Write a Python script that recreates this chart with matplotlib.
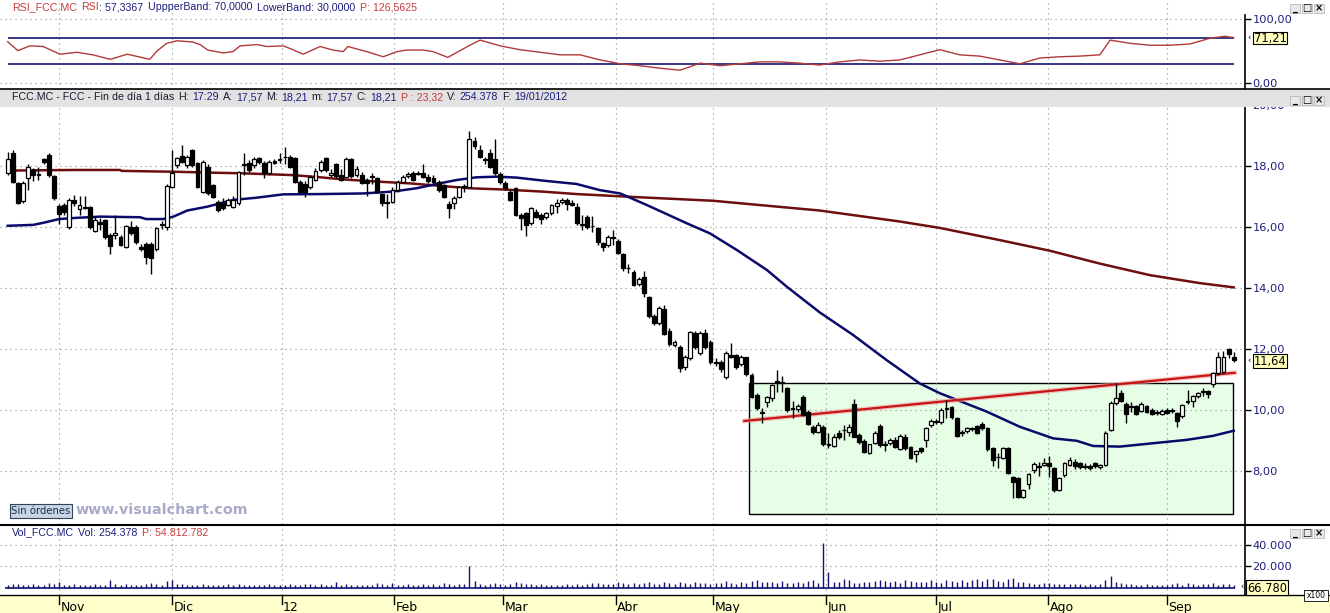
import numpy as np
import matplotlib
matplotlib.use("Agg")
import matplotlib.pyplot as plt
from matplotlib.patches import Rectangle
from matplotlib.transforms import blended_transform_factory

plt.rcParams['font.family'] = ['DejaVu Sans']

# ---------------- data ----------------
month_labels = ['Nov', 'Dic', '12', 'Feb', 'Mar', 'Abr', 'May', 'Jun', 'Jul', 'Ago', 'Sep']
month_pos = [10, 32, 53.4, 75.4, 96.5, 118.5, 137.5, 159.6, 181, 202.8, 226]

opens = [17.76, 18.42, 17.43, 16.85, 17.60, 17.87, 17.72, 18.22, 18.36, 17.67,
         16.69, 16.72, 16.01, 16.90, 16.60, 16.66, 16.64, 15.87, 16.15, 16.23,
         15.74, 15.73, 15.68, 15.36, 16.00, 16.00, 15.35, 15.45, 15.45, 15.27,
         16.08, 16.00, 17.32, 18.03, 18.33, 18.03, 18.52, 18.09, 17.16, 17.98,
         17.38, 16.83, 16.78, 16.72, 16.67, 16.78, 18.03, 18.09, 18.03, 18.25,
         18.09, 17.76, 18.15, 18.20, 18.28, 18.30, 18.25, 17.49, 17.40, 17.32,
         17.54, 17.87, 18.25, 17.72, 18.05, 17.70, 17.63, 18.22, 17.70, 17.70,
         17.54, 17.67, 17.60, 17.08, 16.80, 16.83, 17.21, 17.49, 17.66, 17.76,
         17.74, 17.76, 17.65, 17.60, 17.49, 17.38, 16.76, 16.80, 16.99, 17.30,
         17.32, 18.83, 18.52, 18.20, 18.42, 18.22, 17.74, 17.43, 17.16, 17.27,
         16.39, 16.45, 16.12, 16.50, 16.39, 16.32, 16.47, 16.69, 16.83, 16.88,
         16.80, 16.64, 16.10, 16.32, 16.03, 15.96, 15.46, 15.41, 15.66, 15.55,
         15.11, 14.64, 14.54, 14.12, 14.35, 13.69, 13.08, 12.84, 13.30, 12.60,
         12.12, 12.08, 11.40, 11.69, 12.54, 11.86, 12.54, 12.24, 11.56, 11.58,
         11.07, 11.80, 11.80, 11.51, 11.73, 11.15, 10.49, 9.95, 10.27, 10.38,
         10.96, 10.90, 10.71, 10.05, 10.02, 10.42, 9.95, 9.45, 9.29, 9.45,
         8.88, 8.82, 9.26, 9.35, 9.29, 10.20, 9.18, 8.99, 8.60, 8.93,
         9.48, 8.85, 8.91, 9.02, 8.71, 9.13, 8.78, 8.56, 8.74, 9.02,
         9.51, 9.62, 9.62, 10.02, 10.09, 9.73, 9.25, 9.31, 9.37, 9.48,
         9.54, 9.40, 8.74, 8.47, 8.42, 8.74, 7.81, 7.76, 7.14, 7.57,
         8.03, 8.14, 8.20, 8.25, 8.09, 7.38, 7.87, 8.20, 8.31, 8.25,
         8.14, 8.16, 8.27, 8.12, 8.20, 9.34, 10.24, 10.57, 10.20, 10.12,
         10.13, 9.98, 10.13, 10.00, 9.90, 9.87, 10.00, 9.97, 9.89, 9.80,
         10.27, 10.30, 10.46, 10.60, 10.62, 10.85, 11.20, 11.25, 11.99, 11.73]
highs = [18.47, 18.52, 17.47, 17.50, 18.05, 17.95, 17.98, 18.25, 18.42, 17.70,
         16.75, 16.80, 16.95, 17.05, 17.00, 17.00, 16.70, 16.35, 16.30, 16.25,
         15.80, 16.40, 15.75, 16.08, 16.20, 16.05, 15.45, 15.50, 15.50, 16.00,
         16.20, 17.40, 18.52, 18.30, 18.70, 18.35, 18.55, 18.12, 18.20, 18.05,
         17.42, 16.90, 16.95, 16.95, 17.00, 17.85, 18.42, 18.20, 18.28, 18.30,
         18.15, 18.20, 18.22, 18.42, 18.62, 18.35, 18.30, 17.55, 17.50, 17.70,
         17.95, 18.20, 18.30, 17.90, 18.10, 17.90, 18.28, 18.25, 18.00, 17.80,
         17.60, 17.76, 17.65, 17.10, 17.08, 17.30, 17.55, 17.70, 17.80, 17.82,
         17.82, 18.05, 17.75, 17.70, 17.55, 17.42, 16.85, 17.00, 17.35, 17.40,
         19.16, 18.95, 18.70, 18.30, 18.55, 18.90, 17.80, 17.50, 17.20, 17.30,
         16.45, 16.50, 16.65, 16.60, 16.45, 16.50, 16.76, 16.92, 16.95, 16.95,
         16.90, 16.80, 16.40, 16.40, 16.35, 16.00, 15.50, 15.75, 15.90, 15.60,
         15.15, 14.80, 14.60, 14.35, 14.55, 13.75, 13.15, 13.40, 13.45, 12.70,
         12.30, 12.12, 11.80, 12.60, 12.60, 12.58, 12.65, 12.30, 11.70, 11.65,
         11.95, 12.20, 11.85, 11.80, 11.75, 11.20, 10.55, 10.05, 10.45, 10.85,
         11.30, 11.10, 10.75, 10.30, 10.20, 10.50, 10.00, 9.50, 9.60, 9.50,
         9.25, 9.20, 9.35, 9.50, 9.55, 10.35, 9.25, 9.05, 8.90, 9.30,
         9.55, 8.98, 9.08, 9.10, 9.20, 9.20, 8.82, 8.70, 8.80, 9.45,
         9.70, 9.72, 10.05, 10.33, 10.12, 9.76, 9.35, 9.45, 9.45, 9.52,
         9.60, 9.45, 8.80, 8.60, 8.78, 8.78, 7.85, 7.80, 7.42, 7.95,
         8.30, 8.30, 8.42, 8.50, 8.12, 7.80, 8.28, 8.45, 8.40, 8.30,
         8.25, 8.22, 8.30, 8.22, 9.30, 10.30, 10.87, 10.65, 10.25, 10.27,
         10.18, 10.25, 10.18, 10.05, 10.00, 10.02, 10.05, 10.05, 9.92, 10.20,
         10.65, 10.50, 10.60, 10.71, 10.66, 11.25, 11.90, 11.95, 12.02, 11.90]
lows = [17.70, 17.43, 16.75, 16.80, 17.20, 17.50, 17.55, 18.05, 17.65, 16.90,
        16.10, 16.40, 15.95, 16.70, 16.40, 16.60, 15.95, 15.85, 15.90, 15.60,
        15.10, 15.60, 15.38, 15.30, 15.75, 15.45, 15.20, 14.80, 14.45, 15.20,
        15.95, 15.90, 17.30, 17.95, 18.10, 17.95, 17.98, 17.28, 17.10, 17.05,
        16.95, 16.50, 16.55, 16.68, 16.62, 16.72, 17.70, 17.80, 17.95, 18.08,
        17.60, 17.70, 18.05, 18.10, 18.05, 17.95, 17.45, 17.10, 16.99, 17.25,
        17.50, 17.80, 17.80, 17.65, 17.60, 17.50, 17.60, 17.60, 17.65, 17.40,
        17.00, 17.40, 17.10, 16.70, 16.30, 16.80, 17.15, 17.45, 17.60, 17.50,
        17.70, 17.60, 17.45, 17.45, 17.15, 16.95, 16.30, 16.60, 16.95, 17.15,
        17.30, 18.55, 18.25, 18.05, 17.95, 17.70, 17.40, 17.20, 16.85, 16.35,
        15.90, 15.70, 16.05, 16.30, 16.10, 16.25, 16.40, 16.45, 16.75, 16.55,
        16.70, 16.05, 15.90, 15.95, 15.85, 15.40, 15.20, 15.35, 15.40, 15.10,
        14.55, 14.48, 14.05, 14.05, 13.70, 13.00, 12.80, 12.80, 12.45, 12.10,
        12.05, 11.25, 11.30, 11.65, 12.00, 11.80, 12.00, 11.50, 11.45, 11.25,
        11.00, 11.70, 11.35, 11.45, 11.10, 10.40, 10.00, 9.56, 10.10, 10.30,
        10.60, 10.60, 9.95, 9.75, 9.95, 9.80, 9.50, 9.20, 9.25, 8.82,
        8.75, 8.80, 9.05, 9.00, 9.15, 9.10, 8.90, 8.60, 8.55, 8.90,
        8.80, 8.65, 8.85, 8.75, 8.68, 8.70, 8.40, 8.30, 8.60, 8.80,
        9.45, 9.55, 9.55, 9.75, 9.70, 9.10, 9.15, 9.25, 9.30, 9.20,
        9.35, 8.65, 8.15, 8.10, 8.38, 7.90, 7.10, 7.10, 7.10, 7.40,
        7.95, 7.85, 8.15, 7.80, 7.30, 7.35, 7.80, 8.15, 8.05, 8.05,
        8.05, 8.02, 8.10, 8.08, 8.15, 9.30, 10.15, 10.25, 9.56, 9.95,
        9.85, 9.95, 9.90, 9.85, 9.85, 9.84, 9.88, 9.90, 9.45, 9.75,
        10.20, 10.10, 10.40, 10.45, 10.38, 10.75, 11.15, 11.20, 11.70, 11.58]
closes = [18.22, 17.49, 16.78, 17.45, 17.98, 17.70, 17.70, 18.14, 17.72, 16.96,
          16.42, 16.50, 16.89, 16.78, 16.72, 16.62, 16.01, 16.23, 16.10, 15.68,
          15.38, 15.81, 15.41, 16.03, 15.80, 15.50, 15.27, 15.03, 14.97, 15.96,
          16.10, 17.34, 17.76, 18.25, 18.14, 18.28, 18.03, 17.32, 18.14, 17.10,
          16.99, 16.56, 16.61, 16.88, 16.90, 17.81, 18.05, 17.87, 18.22, 18.14,
          17.76, 18.14, 18.10, 18.22, 18.30, 17.98, 17.49, 17.16, 17.16, 17.65,
          17.85, 18.14, 17.87, 17.78, 17.67, 17.54, 18.22, 17.67, 17.90, 17.43,
          17.43, 17.63, 17.16, 16.78, 16.82, 17.21, 17.49, 17.65, 17.74, 17.54,
          17.78, 17.65, 17.52, 17.49, 17.21, 16.97, 16.61, 16.94, 17.32, 17.34,
          18.87, 18.66, 18.28, 18.20, 17.98, 17.76, 17.49, 17.27, 16.88, 16.39,
          16.28, 16.07, 16.61, 16.34, 16.25, 16.45, 16.72, 16.78, 16.88, 16.74,
          16.72, 16.12, 16.08, 16.01, 16.02, 15.52, 15.36, 15.68, 15.65, 15.14,
          14.64, 14.64, 14.10, 14.28, 13.83, 13.08, 12.84, 13.33, 12.49, 12.16,
          12.22, 11.37, 11.73, 12.57, 12.05, 12.51, 12.05, 11.58, 11.55, 11.33,
          11.88, 11.75, 11.42, 11.73, 11.18, 10.44, 10.05, 9.90, 10.44, 10.82,
          10.90, 10.92, 10.00, 10.04, 10.13, 9.84, 9.54, 9.27, 9.51, 8.88,
          8.86, 9.13, 9.10, 9.33, 9.45, 9.13, 8.96, 8.63, 8.88, 9.26,
          8.85, 8.86, 9.02, 8.80, 9.15, 8.74, 8.42, 8.67, 8.67, 9.40,
          9.65, 9.64, 10.00, 10.05, 9.76, 9.15, 9.27, 9.40, 9.38, 9.26,
          9.40, 8.71, 8.36, 8.45, 8.74, 7.95, 7.65, 7.16, 7.38, 7.90,
          8.22, 8.13, 8.25, 8.16, 7.38, 7.76, 8.25, 8.36, 8.16, 8.14,
          8.13, 8.09, 8.16, 8.20, 9.23, 10.24, 10.38, 10.31, 9.87, 10.11,
          9.87, 10.20, 9.95, 9.87, 9.91, 9.98, 9.90, 9.96, 9.65, 10.16,
          10.28, 10.46, 10.55, 10.61, 10.51, 11.20, 11.73, 11.73, 11.84, 11.64]

volumes = [3000, 3500, 4000, 2800, 3200, 3600, 2500, 3000, 4200, 3800,
           5500, 3000, 2800, 3300, 2600, 3100, 2900, 3400, 2700, 3000,
           7000, 3500, 3200, 4000, 2800, 3000, 2900, 3600, 4500, 3300,
           3000, 6500, 7500, 3500, 3800, 3000, 2700, 3200, 3600, 2800,
           3100, 2600, 3000, 3300, 2900, 4000, 2700, 3100, 2600, 3000,
           2800, 3400, 2500, 2900, 3200, 3600, 2700, 3000, 4000, 3300,
           2900, 3500, 3100, 2700, 5500, 3000, 3800, 2600, 3000, 2900,
           3200, 2800, 4500, 3300, 3000, 5000, 3100, 2900, 3500, 3000,
           2700, 3600, 3000, 3300, 2800, 4200, 3400, 3000, 3600, 4000,
           20000, 6500, 4000, 3200, 3800, 5000, 3600, 3000, 3800, 5500,
           4500, 3800, 3300, 3000, 3500, 2800, 3000, 3200, 2900, 3300,
           3000, 4000, 3200, 3500, 4500, 5000, 3600, 3300, 3800, 5500,
           4200, 3500, 4800, 3600, 4300, 5500, 4000, 3800, 5200, 4600,
           3800, 6000, 4500, 4000, 5800, 4200, 4800, 3800, 4500, 5000,
           6500, 4200, 4000, 5300, 4800, 6500, 7500, 5200, 6000, 5500,
           4500, 6800, 5000, 4200, 5800, 4500, 6500, 7000, 5000, 42000,
           15000, 6000, 5500, 8000, 7500, 5000, 4500, 6000, 5500, 6500,
           7000, 6500, 5500, 6200, 5000, 7000, 6500, 5500, 5800, 6000,
           7500, 5500, 5000, 7000, 6500, 5800, 7000, 6000, 7500, 8000,
           6500, 8500, 8000, 6500, 6000, 8500, 9000, 6000, 5500, 4500,
           4000, 3800, 4500, 4200, 3500, 4000, 3600, 3400, 3800, 3500,
           3200, 3600, 3000, 3500, 7000, 11000, 6000, 4500, 4000, 3500,
           3000, 3200, 3500, 3000, 2800, 3200, 3000, 3500, 5000, 3200,
           4500, 3500, 3000, 3800, 3500, 4500, 3000, 4000, 3500, 3200]

ma_fast_idx = [0, 5, 7, 10, 13.4, 18, 25.8, 27, 30.3, 32.3, 35, 39, 44, 48.5, 53.7, 61,
               69.3, 75, 79.7, 83.6, 87.5, 91.4, 95.3, 99.2, 104.4, 110.9, 115.4, 119.4,
               124.6, 132.4, 136.9, 142.1, 148, 151.9, 158.3, 164.8, 171.3, 177.8, 181.7,
               184.3, 190.8, 197.3, 203.8, 208.4, 211.6, 216.8, 223.3, 229.8, 234.9, 239]
ma_fast_val = [16.04, 16.07, 16.14, 16.26, 16.30, 16.34, 16.32, 16.26, 16.26, 16.34, 16.54,
               16.67, 16.89, 16.96, 17.07, 17.08, 17.10, 17.16, 17.27, 17.41, 17.54, 17.63,
               17.65, 17.62, 17.52, 17.41, 17.21, 17.10, 16.72, 16.12, 15.79, 15.25, 14.59,
               14.04, 13.20, 12.46, 11.64, 10.87, 10.55, 10.38, 9.95, 9.45, 9.07, 8.99, 8.82,
               8.80, 8.91, 9.02, 9.15, 9.32]

ma_slow_idx = [0, 13.4, 21.9, 22.2, 32.9, 40.1, 46, 55.7, 60.9, 65.4, 71.9, 78.4, 84.9, 90.1,
               96.6, 104.3, 110.9, 121.3, 137.5, 158.3, 173.9, 181.7, 193.4, 203.2, 212.9,
               222.7, 232.4, 239]
ma_slow_val = [17.85, 17.87, 17.87, 17.84, 17.81, 17.78, 17.76, 17.70, 17.63, 17.56, 17.49,
               17.43, 17.34, 17.27, 17.23, 17.16, 17.08, 16.99, 16.86, 16.54, 16.18, 15.97,
               15.57, 15.22, 14.80, 14.42, 14.16, 14.02]

rsi_idx = [0, 2, 4.3, 6.9, 10.2, 13.5, 16.6, 20, 23.3, 27.7, 29.1, 31, 33, 36.1, 37.5, 39,
           42, 43.9, 45.3, 48.6, 50.5, 53.7, 55, 57.6, 60.9, 63.4, 65.4, 66.3, 70, 73.2,
           75.9, 77.8, 81, 82.9, 85.8, 90.1, 92.1, 96, 99.9, 103.8, 107.7, 111.6, 115.5,
           119.4, 123.3, 127.2, 131.1, 135, 138.9, 142.8, 146.6, 150.5, 154.4, 158.3,
           162.2, 166.1, 170, 173.9, 177.8, 181.7, 185.6, 189.5, 193.4, 197.3, 201.2,
           205.1, 209, 212.9, 214.9, 218.8, 222.7, 226.6, 230.5, 234.4, 237.3, 239]
rsi_val = [64.5, 50.5, 58, 57, 45, 48, 44, 37, 45, 37, 50, 62, 66, 64, 60, 51.5,
           47, 49, 58, 60, 57, 58, 54, 45, 57, 51.5, 49, 57, 49, 41,
           49, 51.5, 51.5, 49, 40, 59, 67, 58, 52, 48, 44, 44, 36,
           30, 27, 23, 20, 31, 27, 30, 33, 33, 31, 28,
           33, 36, 34, 36, 44, 52, 44, 42, 36, 30, 39,
           41, 42, 44, 67, 62, 59, 59, 61, 70, 73, 71]
rsi_bands = [30, 70]
rsi_ticks = [0, 100]
rsi_tick_labels = ['0,00', '100,00']

trend_idx = [143.6, 239.2]
trend_val = [9.64, 11.22]
box_idx = [144.6, 238.9]
box_price = [6.58, 10.875]

price_ticks = [8, 10, 12, 14, 16, 18, 20]
price_tick_labels = ['8,00', '10,00', '12,00', '14,00', '16,00', '18,00', '20,00']
vol_ticks = [20000, 40000]
vol_tick_labels = ['20.000', '40.000']

# ---------------- layout helpers ----------------
W, H = 1330, 613
fig = plt.figure(figsize=(W / 100, H / 100), dpi=100)
fig.patch.set_facecolor('white')


def rect(x0, y0, x1, y1):
    return [x0 / W, 1 - y1 / H, (x1 - x0) / W, (y1 - y0) / H]


NAVY = '#1e1e7e'
RED = '#c83c3c'
GRID = '#8c8c8c'
XLIM = (-1.5, 241.2)
idx = np.arange(len(closes))


def style_axis(ax, ticks, labels):
    ax.set_xlim(*XLIM)
    for s in ['top', 'left', 'bottom']:
        ax.spines[s].set_visible(False)
    ax.spines['right'].set_color('black')
    ax.spines['right'].set_linewidth(1.2)
    ax.set_xticks([])
    ax.yaxis.tick_right()
    ax.set_yticks(ticks)
    ax.set_yticklabels(labels)
    ax.tick_params(axis='y', length=4, width=1, color='black', labelcolor=NAVY,
                   labelsize=8.2, pad=1.5, direction='out')
    for mp in month_pos:
        ax.axvline(mp, color=GRID, lw=0.8, ls=(0, (1, 3.5)), zorder=1)
    for t in ticks:
        ax.axhline(t, color=GRID, lw=0.8, ls=(0, (1, 3.5)), zorder=1)


# ---------------- RSI panel ----------------
ax_r = fig.add_axes(rect(0, 0, 1245, 89))
ax_r.set_ylim(-9.4, 129.7)
style_axis(ax_r, rsi_ticks, rsi_tick_labels)
ax_r.spines['right'].set_bounds(-9.4, 106)
for b in rsi_bands:
    ax_r.hlines(b, idx[0], idx[-1], color='#141470', lw=1.2, zorder=2)
ax_r.plot(rsi_idx, rsi_val, color='#b03a3a', lw=1.0, zorder=3)

# ---------------- price panel ----------------
ax_p = fig.add_axes(rect(0, 105, 1245, 524))
ax_p.set_ylim(6.262, 20.0)
style_axis(ax_p, price_ticks, price_tick_labels)
ax_p.add_patch(Rectangle((box_idx[0], box_price[0]), box_idx[1] - box_idx[0],
                         box_price[1] - box_price[0], facecolor='#e6fde6',
                         edgecolor='black', lw=1.0, zorder=0.5))
ax_p.plot(ma_slow_idx, ma_slow_val, color='#6e0e0e', lw=1.8, zorder=2)
ax_p.plot(ma_fast_idx, ma_fast_val, color='#0a0a6a', lw=1.8, zorder=2)
ax_p.plot(trend_idx, trend_val, color='#f0a0a0', lw=3.4, zorder=2.4, alpha=0.6)
ax_p.plot(trend_idx, trend_val, color='#c81414', lw=1.6, zorder=2.5)

o = np.array(opens); c = np.array(closes); h = np.array(highs); l = np.array(lows)
up = c >= o
ax_p.vlines(idx, l, h, color='black', lw=1.0, zorder=3)
body_lo = np.minimum(o, c)
body_h = np.maximum(np.abs(c - o), 0.025)
ax_p.bar(idx[up], body_h[up], bottom=body_lo[up], width=0.75, color='white',
         edgecolor='black', lw=0.9, zorder=4)
ax_p.bar(idx[~up], body_h[~up], bottom=body_lo[~up], width=0.75, color='black',
         edgecolor='black', lw=0.9, zorder=4)

# ---------------- volume panel ----------------
ax_v = fig.add_axes(rect(0, 525, 1245, 595))
ax_v.set_ylim(-6511, 58600)
style_axis(ax_v, vol_ticks, vol_tick_labels)
ax_v.vlines(idx, 0, volumes, color='#10106e', lw=1.0, zorder=3)
ax_v.hlines(0, idx[0] - 0.5, idx[-1] + 0.3, color='#10106e', lw=1.2, zorder=3)

# ---------------- date band ----------------
ax_x = fig.add_axes(rect(0, 595, 1245, 613))
ax_x.set_xlim(*XLIM)
ax_x.set_ylim(0, 1)
ax_x.axis('off')
tr = blended_transform_factory(ax_x.transData, ax_x.transAxes)
for mp, lab in zip(month_pos, month_labels):
    ax_x.plot([mp, mp], [1, 0.5], color='black', lw=1, transform=tr, clip_on=False, zorder=5)
    ax_x.text(mp + 0.3, 0.3, lab, transform=tr, fontsize=9, color='black',
              ha='left', va='center', zorder=5)

# ---------------- overlay (pixel coords) ----------------
ov = fig.add_axes([0, 0, 1, 1], zorder=10)
ov.set_xlim(0, W)
ov.set_ylim(H, 0)
ov.axis('off')
ov.patch.set_alpha(0)
ax_x.set_zorder(11)

ov.add_patch(Rectangle((0, 595), W, 18, facecolor='#ffffcc', edgecolor='none', zorder=0))
ov.add_patch(Rectangle((0, 89), W, 17.5, facecolor='#e2e2e2', edgecolor='none', zorder=1))
ov.plot([0, W], [89, 89], color='black', lw=1.2, zorder=2)
ov.plot([0, W], [524.5, 524.5], color='black', lw=1.5, zorder=2)
ov.plot([0, W], [595, 595], color='black', lw=1.0, zorder=2)

rend = fig.canvas.get_renderer()
HFONT = ['Liberation Sans', 'DejaVu Sans']


def rich(x, y, parts, size=7.7):
    for s, col, gap in parts:
        t = ov.text(x, y, s, color=col, fontsize=size, va='center', ha='left', zorder=5,
                    family=HFONT)
        x += t.get_window_extent(rend).width + gap


DARK = '#1a1a2e'
rich(12, 7, [('RSI_FCC.MC', RED, 4), ('RSI', RED, 0), (': 57,3367', NAVY, 5),
             ('UppperBand: 70,0000', NAVY, 5), ('LowerBand: 30,0000', NAVY, 5),
             ('P: 126,5625', RED, 0)])
rich(12, 97.5, [('FCC.MC - FCC - Fin de día 1 días', DARK, 4), ('H:', DARK, 3), ('17:29', NAVY, 4),
                ('A:', DARK, 3), ('17,57', NAVY, 4), ('M:', DARK, 3), ('18,21', NAVY, 4),
                ('m:', DARK, 3), ('17,57', NAVY, 4), ('C:', DARK, 3), ('18,21', NAVY, 4),
                ('P : 23,32', RED, 4), ('V:', DARK, 3), ('254.378', NAVY, 4),
                ('F:', DARK, 3), ('19/01/2012', NAVY, 0)])
rich(12, 532.5, [('Vol_FCC.MC', NAVY, 4), ('Vol: 254.378', NAVY, 5), ('P: 54.812.782', RED, 0)])

# value flags
for (x0, y0, x1, y1, txt) in [(1253, 32, 1287, 44, '71,21'), (1253, 354, 1287, 368, '11,64'),
                              (1246, 580, 1288, 595, '66.780')]:
    ov.add_patch(Rectangle((x0, y0), x1 - x0, y1 - y0, facecolor='#ffffc0',
                           edgecolor='black', lw=0.8, zorder=4))
    ov.text((x0 + x1) / 2, (y0 + y1) / 2 + 0.5, txt, fontsize=8.3, color='black',
            ha='center', va='center', zorder=5)
    ov.text(x0 - 2, (y0 + y1) / 2, '‹', fontsize=6, color='black', ha='right', va='center', zorder=5)

ov.add_patch(Rectangle((1304, 590), 24, 11, facecolor='white', edgecolor='black', lw=0.6, zorder=4))
ov.text(1316, 595.5, 'x100', fontsize=5.5, ha='center', va='center', zorder=5)

# window buttons
for yb in [4, 96, 529]:
    for k, g in enumerate(['_', '□', '×']):
        xb = 1290 + k * 12
        ov.add_patch(Rectangle((xb, yb), 10, 9, facecolor='#e8e8e8', edgecolor='#b0b0b0',
                               lw=0.5, zorder=4))
        ov.text(xb + 5, yb + 4.0, g, fontsize=7, ha='center', va='center', zorder=5,
                fontweight='bold')

# Sin ordenes + watermark
ov.add_patch(Rectangle((9.5, 504), 62, 14, facecolor='#c6d6e6', edgecolor='#34445a', lw=0.8, zorder=4))
ov.text(40.5, 511, 'Sin órdenes', fontsize=7.3, color='#1e2e4a', ha='center', va='center', zorder=5)
ov.text(76, 509.5, 'www.visualchart.com', fontsize=10.3, color='#a9a9c9', fontweight='bold',
        ha='left', va='center', zorder=5)

fig.savefig('out.png', dpi=100)
